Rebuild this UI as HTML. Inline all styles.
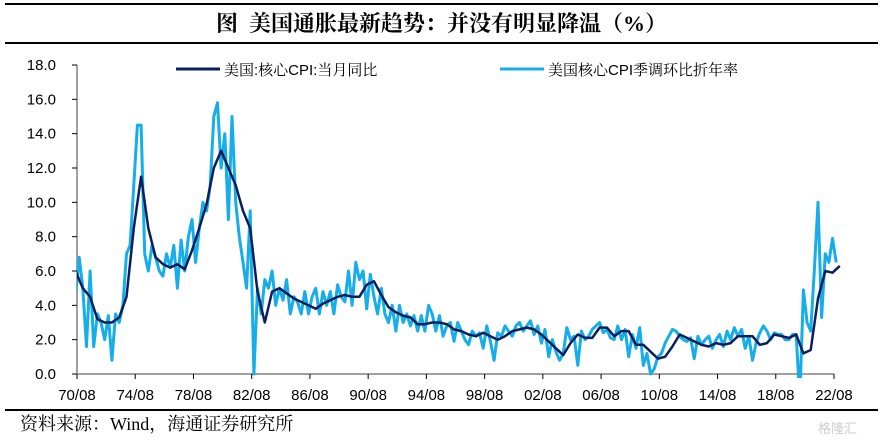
<!DOCTYPE html>
<html><head><meta charset="utf-8"><style>
body{margin:0;background:#fff;width:883px;height:444px;overflow:hidden;position:relative;font-family:"Liberation Sans","Noto Sans CJK SC",sans-serif}
.t{position:absolute}
</style></head><body>
<div class="t" style="left:5px;top:3px;width:873px;height:2px;background:#000"></div>
<div class="t" style="left:0;top:8px;width:883px;text-align:center;font:bold 22px 'Liberation Serif','Noto Serif CJK SC',serif;line-height:32px">图&nbsp; 美国通胀最新趋势：并没有明显降温（%）</div>
<div class="t" style="left:5px;top:42px;width:873px;height:2px;background:#000"></div>
<div class="t" style="left:5px;top:409px;width:873px;height:2px;background:#000"></div>
<div class="t" style="left:20px;top:412px;font:18px 'Liberation Serif','Noto Serif CJK SC',serif;line-height:24px">资料来源：Wind，海通证券研究所</div>
<div class="t" style="left:818px;top:418px;font:13px 'Noto Sans CJK SC',sans-serif;color:#ccc">格隆汇</div>
<svg class="t" style="left:0;top:0" width="883" height="444" id="chart">
<defs><clipPath id="cp"><rect x="77" y="55" width="770" height="323"/></clipPath></defs>
<g id="axes"></g><g id="series" clip-path="url(#cp)"></g><g id="legend"></g>
</svg>
<script>
const yTicks=[0,2,4,6,8,10,12,14,16,18];
const yTickLabels=["0.0","2.0","4.0","6.0","8.0","10.0","12.0","14.0","16.0","18.0"];
const xTickYears=[1970.6,1974.6,1978.6,1982.6,1986.6,1990.6,1994.6,1998.6,2002.6,2006.6,2010.6,2014.6,2018.6,2022.6];
const xTickLabels=["70/08","74/08","78/08","82/08","86/08","90/08","94/08","98/08","02/08","06/08","10/08","14/08","18/08","22/08"];
// core CPI YoY, semiannual from 1970.5
const coreStart=1970.5;
const coreYoY=[6.0,5.0,4.5,3.2,3.0,3.0,3.3,4.5,8.5,11.5,8.5,6.8,6.4,6.2,6.4,6.1,7.2,8.5,9.9,12.0,13.0,12.0,11.0,9.5,8.5,4.8,3.0,4.8,5.0,4.7,4.4,4.2,4.0,3.8,4.1,4.3,4.5,4.6,4.5,4.5,5.2,5.4,4.6,3.9,3.6,3.4,3.3,2.9,2.9,3.0,3.0,2.9,2.6,2.5,2.3,2.2,2.4,2.2,2.0,2.2,2.5,2.6,2.7,2.6,2.3,1.9,1.5,1.1,1.8,2.3,2.1,2.1,2.7,2.7,2.2,2.5,2.5,1.7,1.7,1.3,0.9,1.0,1.6,2.3,2.1,1.9,1.7,1.6,1.8,1.7,1.8,2.2,2.2,2.2,1.7,1.8,2.3,2.2,2.1,2.3,1.2,1.4,4.4,6.0,5.9,6.3];
// core CPI SA annualized, quarterly from 1970.5
const saarStart=1970.5;
const coreSAAR=[4.5,6.8,5.0,1.6,6.0,1.6,3.5,3.0,2.0,3.4,0.8,3.5,3.0,4.0,7.0,7.5,11.0,14.5,14.5,7.0,6.0,7.5,6.8,6.0,5.7,7.0,6.2,7.5,5.0,7.8,6.0,8.0,9.0,6.5,8.5,10.0,9.5,11.0,15.0,15.8,12.0,14.0,9.0,15.0,10.0,8.0,6.5,5.0,9.5,0.0,5.0,3.5,5.5,5.0,6.0,4.0,5.0,4.3,5.5,3.5,4.5,4.2,3.5,4.8,3.5,4.5,5.0,3.5,4.8,4.0,4.8,3.5,5.2,4.5,4.2,6.0,4.0,6.5,5.5,6.0,3.8,5.8,4.5,3.5,5.0,3.5,3.0,4.0,2.5,4.0,3.0,3.5,2.8,3.4,2.5,3.4,2.5,4.0,3.5,2.5,3.4,2.2,2.8,3.0,1.9,3.0,2.5,2.0,1.7,2.5,2.2,2.4,1.5,2.8,1.9,0.8,2.4,2.2,2.8,2.5,2.2,2.8,3.0,2.5,2.8,3.1,2.3,2.8,1.8,2.6,1.0,2.0,1.3,0.8,1.2,2.7,2.0,2.2,0.5,2.5,2.0,2.2,2.6,2.8,3.0,2.4,2.6,2.1,2.0,2.8,2.0,2.6,1.0,2.3,1.5,2.7,0.5,1.2,0.0,0.3,1.0,1.2,1.8,2.2,2.6,2.5,2.2,2.0,1.9,2.1,0.9,2.2,1.7,2.0,2.2,1.5,2.0,2.3,1.6,2.5,2.0,2.7,2.2,2.6,1.5,2.2,0.8,1.8,2.4,2.8,2.5,2.0,2.4,2.3,2.3,2.0,2.0,2.3,2.3,-1.5,4.9,3.0,2.5,6.0,10.0,3.3,7.0,6.5,7.9,6.5];
const X0=77,X1=834,Y0=374,Y1=65;
function xs(yr){return X0+(yr-1970.6)*(X1-X0)/52;}
function ys(v){return Y0-v*(Y0-Y1)/18;}
const NS="http://www.w3.org/2000/svg";
function mk(tag,attrs,parent){const e=document.createElementNS(NS,tag);for(const k in attrs)e.setAttribute(k,attrs[k]);parent.appendChild(e);return e;}
const ax=document.getElementById('axes');
let e=mk('line',{x1:X0,y1:Y1,x2:X0,y2:Y0,stroke:'#a0a0a0','stroke-width':2},ax);


e=mk('line',{x1:X0,y1:Y0,x2:X1,y2:Y0,stroke:'#a0a0a0','stroke-width':2},ax);


yTicks.forEach((v,i)=>{
  const y=ys(v);
  mk('line',{x1:X0-5,y1:y,x2:X0,y2:y,stroke:'#000','stroke-width':1},ax);
  const t=mk('text',{x:56,y:y+5,'text-anchor':'end','font-size':15,'font-family':'Liberation Sans, sans-serif',fill:'#000'},ax);
  t.textContent=yTickLabels[i];
  
  
});
xTickYears.forEach((yr,i)=>{
  const x=xs(yr);
  mk('line',{x1:x,y1:Y0,x2:x,y2:Y0+5,stroke:'#000','stroke-width':1},ax);
  const t=mk('text',{x:x,y:400,'text-anchor':'middle','font-size':15,'font-family':'Liberation Sans, sans-serif',fill:'#000'},ax);
  t.textContent=xTickLabels[i];
  
  
});
const sg=document.getElementById('series');
function pts(arr,start,step){return arr.map((v,i)=>xs(start+i*step).toFixed(1)+','+ys(v).toFixed(1)).join(' ');}
e=mk('polyline',{points:pts(coreSAAR,saarStart,0.25),fill:'none',stroke:'#16aeea','stroke-width':3,'stroke-linejoin':'round'},sg);


e=mk('polyline',{points:pts(coreYoY,coreStart,0.5),fill:'none',stroke:'#0b1f5c','stroke-width':2.5,'stroke-linejoin':'round'},sg);


const lg=document.getElementById('legend');
[[176,'#0b1f5c','美国:核心CPI:当月同比','legend-entry-yoy'],[500,'#16aeea','美国核心CPI季调环比折年率','legend-entry-saar']].forEach(d=>{
  const g=mk('g',{},lg);
  
  
  mk('line',{x1:d[0],y1:69,x2:d[0]+44,y2:69,stroke:d[1],'stroke-width':3},g);
  const t=mk('text',{x:d[0]+48,y:75,'font-size':15,'font-family':'Liberation Sans, Noto Serif CJK SC, serif',fill:'#000'},g);
  t.textContent=d[2];
});
</script>
</body></html>
